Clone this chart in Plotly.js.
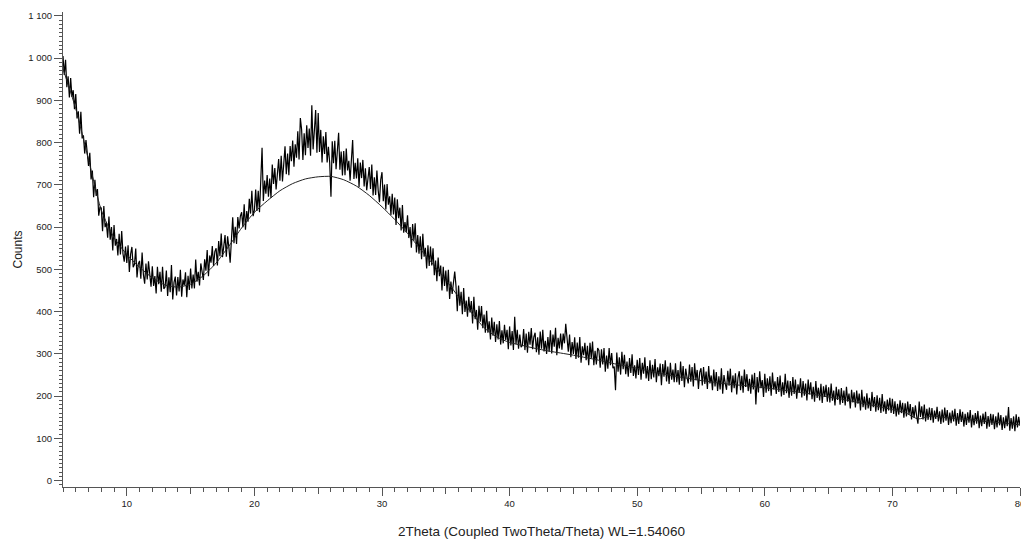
<!DOCTYPE html>
<html>
<head>
<meta charset="utf-8">
<script src="https://cdn.plot.ly/plotly-3.0.1.min.js"></script>
<style>html,body{margin:0;padding:0;background:#fff;}#chart{width:1021px;height:540px;}</style>
</head>
<body>
<div id="chart"></div>
<script>
// 2Theta start and step of the measured scan (degrees)
const scanStart = 5;
const scanStep = 0.1;

const counts = [
1005,960,996,931,957,907,953,908,924,879,
915,857,874,821,873,810,817,774,806,763,
745,776,713,734,671,712,674,690,627,648,
645,590,650,600,610,575,625,570,600,545,
605,556,572,533,584,535,591,537,518,554,
515,557,494,536,553,505,512,549,481,513,
520,478,540,488,466,514,476,519,482,459,
507,461,484,443,506,465,494,447,506,454,
458,497,437,481,446,510,429,469,483,438,
482,448,499,435,476,462,493,434,485,451,
502,455,488,455,523,471,494,462,514,487,
475,524,497,546,484,533,516,555,508,542,
550,509,567,531,585,529,562,581,530,578,
552,516,570,623,562,601,560,624,597,626,
635,600,654,594,638,613,667,632,686,626,
640,689,638,686,635,709,788,662,710,679,
723,672,715,669,748,702,740,689,728,761,
710,769,708,752,791,725,774,723,792,756,
805,743,796,764,827,760,858,831,759,822,
770,841,787,833,769,888,784,828,877,776,
870,778,830,753,815,773,825,753,790,753,
672,803,751,804,737,780,823,736,779,722,
780,723,786,734,757,710,773,806,714,752,
715,763,695,753,716,759,696,739,687,724,
742,690,748,675,718,676,734,687,659,712,
730,661,701,642,702,653,673,629,679,630,
670,605,666,621,646,592,652,587,612,588,
628,574,600,551,607,568,609,540,581,537,
578,524,584,530,551,502,557,508,554,509,
550,486,521,472,528,484,509,450,506,461,
497,448,499,430,471,442,478,495,460,401,
462,414,447,394,456,399,426,388,435,398,
425,372,435,382,404,357,414,376,413,361,
393,350,402,350,377,334,386,343,376,328,
370,334,378,322,356,325,369,333,357,311,
365,320,354,309,388,323,357,312,346,316,
320,359,309,348,303,352,322,361,311,340,
350,304,339,298,353,312,357,306,331,300,
340,305,356,301,346,317,362,297,338,313,
348,310,348,325,371,344,305,346,292,328,
300,339,288,327,291,340,279,318,297,326,
285,319,273,326,290,329,273,307,275,314,
308,267,311,275,314,258,296,265,314,273,
302,266,270,214,303,258,292,251,305,264,
298,252,282,246,290,255,299,248,273,242,
286,250,290,239,279,253,292,242,271,236,
285,240,274,244,288,233,268,247,277,226,
276,246,285,235,270,229,279,239,263,233,
278,233,262,227,282,236,271,221,265,245,
230,275,234,269,223,278,238,262,217,256,
266,225,269,229,258,217,271,230,249,214,
263,223,257,212,247,216,266,206,250,230,
215,260,225,265,209,249,219,254,204,244,
259,214,248,208,263,222,252,212,241,206,
251,216,255,180,245,209,259,219,238,198,
253,208,242,212,247,201,256,216,235,205,
245,210,249,199,233,203,253,207,237,196,
236,201,245,205,239,194,228,208,242,197,
236,201,230,190,239,204,233,193,222,187,
236,196,220,190,229,184,223,198,227,187,
221,185,230,189,213,178,222,191,216,180,
219,184,213,178,222,187,206,171,215,185,
209,173,213,182,206,166,215,174,199,168,
207,171,196,165,210,174,198,163,202,167,
196,160,205,164,188,158,192,166,196,160,
194,158,188,152,182,156,190,160,184,149,
183,152,187,156,181,145,174,149,178,153,
135,187,151,176,145,180,140,170,144,173,
143,172,137,166,146,175,140,164,134,168,
138,173,142,167,132,161,136,166,140,170,
130,160,134,169,139,163,128,158,132,162,
137,167,126,156,131,160,135,165,124,154,
129,159,134,163,123,153,128,158,132,157,
122,152,126,161,131,155,120,150,124,154,
129,174,118,148,123,152,117,157,126,151,
130
];

// Background curve at every whole degree
const bgAngles = [5,6,7,8,9,10,11,12,13,14,15,16,17,18,19,20,21,22,23,24,25,26,27,28,29,30,31,32,33,34,35,36,37,38,39,40,41,42,43,44,45,46,47,48,49,50,51,52,53,54,55,56,57,58,59,60,61,62,63,64,65,66,67,68,69,70,71,72,73,74,75,76,77,78,79,80];
const bgCounts = [975,880,760,640,575,535,505,480,463,458,465,485,515,555,598,635,662,686,703,714,719,720,712,697,675,648,618,585,548,512,475,435,398,362,340,327,320,313,307,302,297,291,285,278,272,266,259,253,247,242,237,233,229,226,223,220,216,212,208,203,198,193,187,181,175,168,161,146,153,150,147,144,141,138,135,132];

// Axis text and ticks
const xTitle = "2Theta (Coupled TwoTheta/Theta) WL=1.54060";
const yTitle = "Counts";
const xTickVals = [10,20,30,40,50,60,70,80];
const xHalfTickVals = [15,25,35,45,55,65,75];
const yTickVals = [0,100,200,300,400,500,600,700,800,900,1000,1100];

const xRange = [5, 80];
const yRange = [-15, 1109];
const axisColor = "#555";
const fontFam = "Liberation Sans, Arial, sans-serif";

const traces = [
  {
    type: "scatter", mode: "lines",
    x0: scanStart, dx: scanStep, y: counts,
    line: {color: "#000", width: 1.2},
    hoverinfo: "skip", showlegend: false
  },
  {
    type: "scatter", mode: "lines",
    x: bgAngles, y: bgCounts, xaxis: "x2",
    line: {color: "#222", width: 1, shape: "spline", smoothing: 0.6},
    hoverinfo: "skip", showlegend: false
  }
];

const layout = {
  width: 1021, height: 540,
  margin: {l: 63, r: 1, t: 12, b: 53, pad: 0},
  paper_bgcolor: "#fff", plot_bgcolor: "#fff",
  separators: ". ",
  showlegend: false,
  font: {family: fontFam, size: 10, color: "#222"},
  xaxis: {
    range: xRange,
    tickmode: "array", tickvals: xTickVals,
    ticklabeloverflow: "allow",
    ticks: "outside", ticklen: 8, tickwidth: 1, tickcolor: axisColor,
    minor: {dtick: 1, ticks: "outside", ticklen: 4, tickwidth: 1, tickcolor: axisColor, showgrid: false},
    showline: true, linecolor: axisColor, linewidth: 1,
    showgrid: false, zeroline: false,
    tickfont: {family: fontFam, size: 9.5, color: "#222"},
    title: {text: xTitle, font: {family: fontFam, size: 13.5, color: "#222"}, standoff: 18}
  },
  xaxis2: {
    range: xRange, overlaying: "x", anchor: "y", side: "bottom",
    tickmode: "array", tickvals: xHalfTickVals, showticklabels: false,
    ticks: "outside", ticklen: 6, tickwidth: 1, tickcolor: axisColor,
    showline: false, showgrid: false, zeroline: false
  },
  yaxis: {
    range: yRange,
    tickmode: "array", tickvals: yTickVals,
    separatethousands: true,
    ticks: "outside", ticklen: 8, tickwidth: 1, tickcolor: axisColor,
    minor: {dtick: 10, ticks: "outside", ticklen: 3, tickwidth: 1, tickcolor: axisColor, showgrid: false},
    showline: true, linecolor: axisColor, linewidth: 1,
    showgrid: false, zeroline: false,
    tickfont: {family: fontFam, size: 9.5, color: "#222"},
    title: {text: yTitle, font: {family: fontFam, size: 12, color: "#222"}, standoff: 3}
  }
};

Plotly.newPlot("chart", traces, layout, {staticPlot: true, displayModeBar: false});
</script>
</body>
</html>
